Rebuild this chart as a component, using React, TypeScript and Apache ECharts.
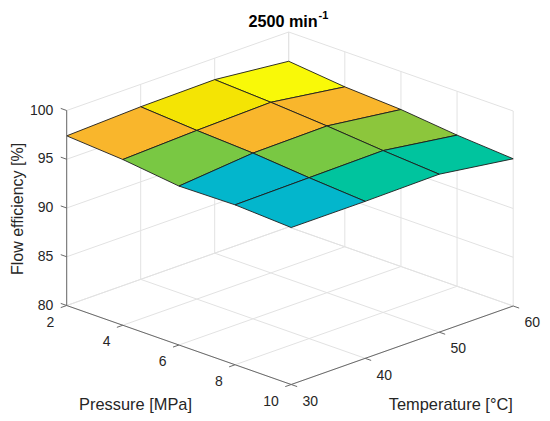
import React, { useEffect, useRef } from 'react';
import * as echarts from 'echarts';

// ---- data ----
const pressures = [2, 4, 6, 8, 10]; // MPa
const temperatures = [30, 40, 50, 60]; // °C
// flow efficiency [%], one row per temperature, one column per pressure
const efficiencyAt30 = [97.4, 97.0, 96.3, 96.4, 96.1];
const efficiencyAt40 = [97.7, 97.3, 97.0, 96.5, 96.1];
const efficiencyAt50 = [97.8, 97.5, 97.1, 96.6, 96.2];
const efficiencyAt60 = [97.0, 96.4, 96.1, 95.5, 95.1];
const efficiency = [efficiencyAt30, efficiencyAt40, efficiencyAt50, efficiencyAt60];

const pressureTicks = [2, 4, 6, 8, 10];
const temperatureTicks = [30, 40, 50, 60];
const efficiencyTicks = [80, 85, 90, 95, 100];

// ---- layout / projection (styles & positions only) ----
const W = 550;
const H = 421;
const P_RANGE = [2, 10];
const T_RANGE = [30, 60];
const Z_RANGE = [80, 100];
const ORIGIN = [66.7, 305.5];
const PVEC = [224.5, 79];
const TVEC = [222, -78.5];
const ZVEC = [0, -195];
const FONT = '"Liberation Sans", Arial, Helvetica, sans-serif';
const TEXT_COLOR = '#262626';
const GRID_COLOR = '#e2e2e2';
const AXIS_COLOR = '#6a6a6a';
const LABEL_SIZE = 16.4;

function project(p: number, t: number, z: number): number[] {
  const fp = (p - P_RANGE[0]) / (P_RANGE[1] - P_RANGE[0]);
  const ft = (t - T_RANGE[0]) / (T_RANGE[1] - T_RANGE[0]);
  const fz = (z - Z_RANGE[0]) / (Z_RANGE[1] - Z_RANGE[0]);
  return [
    ORIGIN[0] + fp * PVEC[0] + ft * TVEC[0] + fz * ZVEC[0],
    ORIGIN[1] + fp * PVEC[1] + ft * TVEC[1] + fz * ZVEC[1],
  ];
}

function unit(v: number[]): number[] {
  const l = Math.hypot(v[0], v[1]);
  return [v[0] / l, v[1] / l];
}

const TICK_LEN = 6.3;

export default function App() {
  const ref = useRef<HTMLDivElement>(null);

  useEffect(() => {
    if (!ref.current) return;
    const chart = echarts.init(ref.current, undefined, { renderer: 'svg' });

    const pMin = P_RANGE[0], pMax = P_RANGE[1];
    const tMin = T_RANGE[0], tMax = T_RANGE[1];
    const zMin = Z_RANGE[0], zMax = Z_RANGE[1];

    // grid lines on floor and back walls
    const gridData: number[][] = [
      ...pressureTicks.map((p) => [0, p]),
      ...temperatureTicks.map((t) => [1, t]),
      ...efficiencyTicks.map((z) => [2, z]),
      ...efficiencyTicks.map((z) => [3, z]),
      ...temperatureTicks.map((t) => [4, t]),
      ...pressureTicks.map((p) => [5, p]),
    ];

    const cellData: number[][] = [];
    for (let ti = temperatures.length - 2; ti >= 0; ti--) {
      for (let pi = 0; pi < pressures.length - 1; pi++) {
        cellData.push([pi, ti, efficiency[ti][pi]]);
      }
    }

    const lineStyle = (stroke: string) => ({ stroke, lineWidth: 1 });

    const option: any = {
      animation: false,
      backgroundColor: '#ffffff',
      grid: { left: 0, right: 0, top: 0, bottom: 0 },
      xAxis: { type: 'value', min: 0, max: W, show: false },
      yAxis: { type: 'value', min: 0, max: H, inverse: true, show: false },
      visualMap: {
        type: 'piecewise',
        show: false,
        dimension: 2,
        seriesIndex: 1,
        pieces: [
          { lt: 96.45, color: '#03b6cc' },
          { gte: 96.45, lt: 96.8, color: '#00c49e' },
          { gte: 96.8, lt: 97.05, color: '#79c843' },
          { gte: 97.05, lt: 97.2, color: '#8cc63c' },
          { gte: 97.2, lt: 97.6, color: '#f9b62c' },
          { gte: 97.6, lt: 97.75, color: '#f4e404' },
          { gte: 97.75, color: '#f9f908' },
        ],
      },
      series: [
        {
          type: 'custom',
          silent: true,
          data: gridData,
          renderItem: (params: any, api: any) => {
            const kind = api.value(0);
            const v = api.value(1);
            let a: number[], b: number[];
            if (kind === 0) { a = project(v, tMin, zMin); b = project(v, tMax, zMin); }
            else if (kind === 1) { a = project(pMin, v, zMin); b = project(pMax, v, zMin); }
            else if (kind === 2) { a = project(pMin, tMin, v); b = project(pMin, tMax, v); }
            else if (kind === 3) { a = project(pMin, tMax, v); b = project(pMax, tMax, v); }
            else if (kind === 4) { a = project(pMin, v, zMin); b = project(pMin, v, zMax); }
            else { a = project(v, tMax, zMin); b = project(v, tMax, zMax); }
            const A = api.coord(a);
            const B = api.coord(b);
            return {
              type: 'line',
              shape: { x1: A[0], y1: A[1], x2: B[0], y2: B[1] },
              style: lineStyle(GRID_COLOR),
            };
          },
        },
        {
          type: 'custom',
          silent: true,
          data: cellData,
          renderItem: (params: any, api: any) => {
            const pi = api.value(0);
            const ti = api.value(1);
            const corners = [
              [pi, ti], [pi + 1, ti], [pi + 1, ti + 1], [pi, ti + 1],
            ].map(([i, j]) => api.coord(project(pressures[i], temperatures[j], efficiency[j][i])));
            return {
              type: 'polygon',
              shape: { points: corners },
              style: { fill: api.visual('color'), stroke: '#1c1c1c', lineWidth: 0.9, lineJoin: 'round' },
            };
          },
        },
        {
          // axis lines
          type: 'custom',
          silent: true,
          data: [[0, 0], [1, 0], [2, 0]],
          renderItem: (params: any, api: any) => {
            const kind = api.value(0);
            let a: number[], b: number[];
            if (kind === 0) { a = project(pMin, tMin, zMin); b = project(pMax, tMin, zMin); }
            else if (kind === 1) { a = project(pMax, tMin, zMin); b = project(pMax, tMax, zMin); }
            else { a = project(pMin, tMin, zMin); b = project(pMin, tMin, zMax); }
            const A = api.coord(a);
            const B = api.coord(b);
            return {
              type: 'line',
              shape: { x1: A[0], y1: A[1], x2: B[0], y2: B[1] },
              style: lineStyle(AXIS_COLOR),
            };
          },
        },
        {
          // pressure ticks + labels
          type: 'custom',
          silent: true,
          data: pressureTicks.map((p) => [p, 0]),
          renderItem: (params: any, api: any) => {
            const p = api.value(0);
            const A = api.coord(project(p, tMin, zMin));
            const d = unit([-TVEC[0], -TVEC[1]]);
            return {
              type: 'group',
              children: [
                { type: 'line', shape: { x1: A[0], y1: A[1], x2: A[0] + d[0] * TICK_LEN, y2: A[1] + d[1] * TICK_LEN }, style: lineStyle(AXIS_COLOR) },
                { type: 'text', x: A[0] - 12.3, y: A[1] + 16.2, style: { text: String(p), fill: TEXT_COLOR, fontSize: 14, fontFamily: FONT, align: 'right', verticalAlign: 'middle' } },
              ],
            };
          },
        },
        {
          // temperature ticks + labels
          type: 'custom',
          silent: true,
          data: temperatureTicks.map((t) => [t, 0]),
          renderItem: (params: any, api: any) => {
            const t = api.value(0);
            const A = api.coord(project(pMax, t, zMin));
            const d = unit(PVEC);
            return {
              type: 'group',
              children: [
                { type: 'line', shape: { x1: A[0], y1: A[1], x2: A[0] + d[0] * TICK_LEN, y2: A[1] + d[1] * TICK_LEN }, style: lineStyle(AXIS_COLOR) },
                { type: 'text', x: A[0] + 11.3, y: A[1] + 16.2, style: { text: String(t), fill: TEXT_COLOR, fontSize: 14, fontFamily: FONT, align: 'left', verticalAlign: 'middle' } },
              ],
            };
          },
        },
        {
          // efficiency (z) ticks + labels
          type: 'custom',
          silent: true,
          data: efficiencyTicks.map((z) => [z, 0]),
          renderItem: (params: any, api: any) => {
            const z = api.value(0);
            const A = api.coord(project(pMin, tMin, z));
            const d = unit([-PVEC[0], -PVEC[1]]);
            return {
              type: 'group',
              children: [
                { type: 'line', shape: { x1: A[0], y1: A[1], x2: A[0] + d[0] * TICK_LEN, y2: A[1] + d[1] * TICK_LEN }, style: lineStyle(AXIS_COLOR) },
                { type: 'text', x: A[0] - 13.4, y: A[1] - 1, style: { text: String(z), fill: TEXT_COLOR, fontSize: 14, fontFamily: FONT, align: 'right', verticalAlign: 'middle' } },
              ],
            };
          },
        },
      ],
      graphic: [
        { type: 'text', x: 317.7, y: 20.5, style: { text: '2500 min', fill: '#000', fontSize: 16.2, fontWeight: 'bold', fontFamily: FONT, align: 'right', verticalAlign: 'middle' } },
        { type: 'text', x: 318.5, y: 15.3, style: { text: '-1', fill: '#000', fontSize: 11, fontWeight: 'bold', fontFamily: FONT, align: 'left', verticalAlign: 'middle' } },
        { type: 'text', x: 135.5, y: 404, style: { text: 'Pressure [MPa]', fill: TEXT_COLOR, fontSize: LABEL_SIZE, fontFamily: FONT, align: 'center', verticalAlign: 'middle' } },
        { type: 'text', x: 450.8, y: 404, style: { text: 'Temperature [°C]', fill: TEXT_COLOR, fontSize: LABEL_SIZE, fontFamily: FONT, align: 'center', verticalAlign: 'middle' } },
        { type: 'text', x: 17, y: 209, rotation: Math.PI / 2, style: { text: 'Flow efficiency [%]', fill: TEXT_COLOR, fontSize: 16, fontFamily: FONT, align: 'center', verticalAlign: 'middle' } },
      ],
    };

    chart.setOption(option);
    return () => {
      chart.dispose();
    };
  }, []);

  return (
    <div
      ref={ref}
      style={{ position: 'absolute', left: 0, top: 0, width: W, height: H, background: '#fff' }}
    />
  );
}
